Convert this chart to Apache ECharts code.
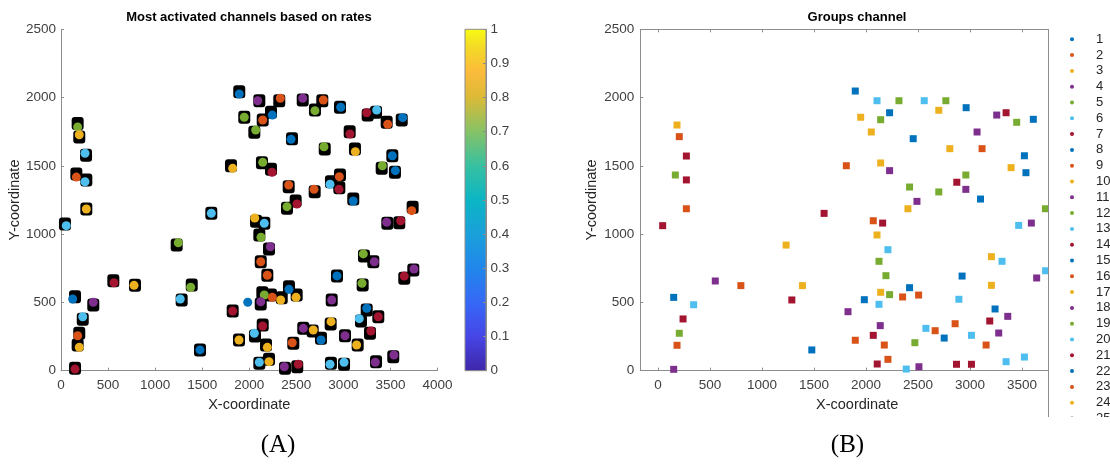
<!DOCTYPE html>
<html>
<head>
<meta charset="utf-8">
<script src="https://cdn.jsdelivr.net/npm/echarts@6/dist/echarts.min.js"></script>
<style>
  html, body { margin: 0; padding: 0; background: #fff; }
  #main { width: 1110px; height: 465px; }
</style>
</head>
<body>
<div id="main"></div>
<script>
// Line colours used for the groups (cycled by group number)
const palette = ['#0072BD', '#D95319', '#EDB120', '#7E2F8E', '#77AC30', '#4DBEEE', '#A2142F'];

// Panel A: positions of the most activated channels (black markers)
const activeChannels = [
  [42,1074],[177,1810],[194,1711],[163,1440],[266,1577],[269,1396],[269,1184],
  [1894,2043],[2107,1977],[2319,1977],[2568,1982],[2776,1977],[2698,1909],[2964,1929],
  [1947,1856],[2143,1836],[2231,1892],[2054,1746],[2454,1699],[2802,1623],[1806,1501],
  [2135,1523],[2231,1475],[2419,1347],[2695,1311],[2868,1384],[2964,1433],[2957,1340],
  [2493,1243],[2401,1189],[1597,1153],[2072,1094],[2160,1079],[3258,1872],[3347,1892],
  [3460,1819],[3620,1836],[3067,1750],[3123,1623],[3520,1574],[3407,1482],[3548,1453],
  [3105,1257],[3736,1197],[3467,1079],[3594,1084],[2210,891],[3219,840],[3318,798],
  [2932,694],[3647,677],[3743,737],[2122,798],[2192,699],[3205,628],[2107,994],
  [1389,628],[1229,920],[786,625],[556,659],[343,481],[149,542],[1282,518],[231,376],
  [194,274],[177,188],[149,18],[1477,152],[1824,437],[1891,225],[2139,571],[2122,488],
  [2231,554],[2345,535],[2422,615],[2504,554],[2143,335],[2061,254],[2178,188],[2107,54],
  [2210,83],[2468,201],[2574,310],[2674,291],[2762,237],[2865,342],[2876,518],[3017,256],
  [3152,188],[3248,444],[3187,364],[3371,395],[3283,274],[2868,54],[3007,47],[3347,66],
  [3530,103],[2380,18],[2510,29]
];

// Panel A: rate markers [x, y, colour index 1..7]
const rateMarks = [
  [56,1062,6],[177,1785,5],[194,1728,3],[163,1418,2],[255,1592,6],[255,1384,6],[269,1184,3],
  [1894,2026,1],[2090,1977,4],[2330,1995,2],[2568,1995,4],[2787,1982,2],[2698,1904,5],[2972,1929,1],
  [1947,1856,5],[2143,1836,2],[2245,1872,1],[2068,1763,5],[2444,1694,1],[2794,1640,5],[1824,1482,3],
  [2143,1526,5],[2242,1453,7],[2419,1360,2],[2688,1328,2],[2858,1365,6],[2957,1421,2],[2954,1328,7],
  [2507,1221,7],[2401,1201,5],[1597,1153,6],[2058,1118,3],[2160,1079,6],[3248,1889,7],[3354,1909,6],
  [3471,1804,2],[3630,1853,1],[3070,1733,7],[3127,1604,3],[3520,1574,1],[3414,1501,5],[3552,1465,1],
  [3105,1243,1],[3726,1172,2],[3460,1087,4],[3609,1098,7],[2224,908,4],[3212,855,5],[3329,798,4],
  [2932,694,1],[3647,693,7],[3750,745,4],[2122,798,2],[2192,699,2],[3198,640,5],[2125,977,5],
  [1378,611,5],[1246,937,5],[776,625,3],[563,644,7],[343,501,4],[124,525,1],[1267,525,6],[231,395,6],
  [177,256,2],[194,171,3],[149,12,7],[1477,152,1],[1824,437,7],[1891,225,3],[1984,501,1],[2160,554,5],
  [2122,505,4],[2245,537,2],[2334,518,3],[2422,596,1],[2497,537,3],[2143,327,7],[2054,274,6],[2192,171,3],
  [2107,62,6],[2210,66,3],[2457,205,2],[2574,310,4],[2680,298,3],[2762,225,1],[2869,359,3],[2876,518,4],
  [3017,256,4],[3141,188,3],[3248,457,1],[3169,381,6],[3371,395,7],[3293,291,7],[2858,47,6],[3007,62,6],
  [3339,62,4],[3537,115,4],[2372,29,4],[2521,47,7]
];

// Panel B: channel positions with their group number [x, y, group]
const groupPoints = [
  [183,1799,3],[205,1714,2],[273,1572,7],[167,1433,5],[273,1397,14],[273,1186,9],[45,1062,21],
  [1232,920,10],[551,657,4],[797,623,16],[1389,623,17],[1287,518,7],[151,537,1],[343,483,6],
  [241,379,14],[205,274,12],[183,186,23],[151,10,11],[1479,152,8],[1897,2048,15],[2106,1977,13],
  [2317,1977,19],[2560,1977,20],[2768,1977,5],[2700,1907,24],[2963,1926,22],[2227,1889,1],[1949,1856,3],
  [2141,1838,12],[3257,1872,18],[3347,1889,21],[3449,1819,19],[3609,1841,8],[2051,1748,10],[3068,1748,25],
  [2454,1699,15],[2806,1626,17],[3116,1626,2],[3523,1574,22],[1811,1501,9],[2141,1521,24],[2227,1465,4],
  [3395,1487,3],[3538,1450,1],[2960,1433,5],[2873,1380,7],[2960,1328,11],[2419,1345,12],[2700,1309,19],
  [3101,1257,8],[2490,1240,18],[2403,1186,10],[3725,1186,5],[1597,1152,14],[2070,1098,16],[2160,1081,21],
  [3468,1064,6],[3590,1081,25],[2106,994,17],[2211,886,13],[3206,835,24],[3308,801,20],[3727,732,6],
  [2125,801,12],[2924,693,15],[2192,696,19],[3641,679,4],[3206,625,3],[2419,608,22],[2141,574,10],
  [2227,557,5],[2352,540,23],[2506,554,2],[1984,520,1],[2125,486,13],[2893,523,20],[3241,452,8],
  [1827,432,11],[3363,398,18],[3190,364,7],[2857,344,9],[2137,330,25],[2576,310,6],[2665,293,16],
  [3276,276,4],[2070,259,14],[3014,259,13],[2752,239,15],[1897,223,23],[2176,188,2],[2470,205,12],
  [3155,188,9],[3523,100,20],[2211,83,16],[3347,66,6],[2108,49,21],[2870,47,7],[3014,47,14],
  [2387,12,13],[2509,29,11]
];

const groupNames = ['1','2','3','4','5','6','7','8','9','10','11','12','13','14','15','16','17','18','19','20','21','22','23','24','25'];
const xTicks = [0, 500, 1000, 1500, 2000, 2500, 3000, 3500];
const xTickMarks = [0, 500, 1000, 1500, 2000, 2500, 3000, 3500, 4000];

// Parula colour map for the colour bar
const parulaStops = [
  [0.00, '#3E26A8'], [0.10, '#4745E6'], [0.20, '#3668F6'], [0.30, '#2186EB'],
  [0.40, '#1AA0DA'], [0.50, '#0BB5C4'], [0.60, '#37C0A1'], [0.70, '#86C266'],
  [0.80, '#DBBA37'], [0.875, '#FCBB3B'], [0.95, '#F3DC25'], [1.00, '#F9FB14']
];

const axisGrey = '#8c8c8c';
const labelGrey = '#404040';
const font = 'Liberation Sans, Arial, sans-serif';
const plainNumber = v => String(Math.round(v * 1000) / 1000);

const chart = echarts.init(document.getElementById('main'));

const gridTop = 29.3, gridH = 341.4;

function tickLabels(extra) {
  return Object.assign({ fontSize: 13.5, color: labelGrey, fontFamily: font, formatter: plainNumber }, extra);
}

function valueAxis(extra) {
  return Object.assign({
    type: 'value',
    splitLine: { show: false },
    axisLine: { show: true, onZero: false, lineStyle: { color: axisGrey, width: 1 } },
    axisTick: { show: true, inside: true, length: 3, lineStyle: { color: axisGrey } },
    axisLabel: tickLabels({}),
    nameTextStyle: { fontSize: 14.5, color: '#262626', fontFamily: font }
  }, extra);
}

const groupSeries = groupNames.map((name, i) => ({
  name: name,
  type: 'scatter',
  xAxisIndex: 1,
  yAxisIndex: 1,
  symbol: 'rect',
  symbolSize: 7,
  itemStyle: { color: palette[i % 7], opacity: 1 },
  data: groupPoints.filter(p => p[2] === i + 1).map(p => [p[0], p[1]])
}));

chart.setOption({
  animation: false,
  backgroundColor: '#fff',
  grid: [
    { left: 61, top: gridTop, width: 376.5, height: gridH },
    { left: 640.3, top: gridTop, width: 433.7, height: gridH },
    {
      left: 465, top: gridTop, width: 21, height: gridH, show: true,
      borderColor: axisGrey, borderWidth: 1,
      backgroundColor: {
        type: 'linear', x: 0, y: 1, x2: 0, y2: 0,
        colorStops: parulaStops.map(s => ({ offset: s[0], color: s[1] }))
      }
    }
  ],
  xAxis: [
    valueAxis({ gridIndex: 0, min: 0, max: 4000, interval: 500,
      name: 'X-coordinate', nameLocation: 'middle', nameGap: 26 }),
    valueAxis({ gridIndex: 1, min: -170, max: 4000,
      axisLabel: tickLabels({ customValues: xTicks }),
      axisTick: { show: true, inside: true, length: 3, lineStyle: { color: axisGrey }, customValues: xTickMarks },
      name: 'X-coordinate', nameLocation: 'middle', nameGap: 26 }),
    valueAxis({ gridIndex: 1, position: 'top', min: -170, max: 4000,
      axisLabel: { show: false },
      axisTick: { show: true, inside: true, length: 3, lineStyle: { color: axisGrey }, customValues: xTickMarks } }),
    { gridIndex: 2, type: 'value', show: false, min: 0, max: 1 }
  ],
  yAxis: [
    valueAxis({ gridIndex: 0, min: 0, max: 2500, interval: 500,
      axisLabel: tickLabels({ margin: 5 }),
      name: 'Y-coordinate', nameLocation: 'middle', nameGap: 39 }),
    valueAxis({ gridIndex: 1, min: 0, max: 2500, interval: 500,
      axisLabel: tickLabels({ margin: 6 }),
      name: 'Y-coordinate', nameLocation: 'middle', nameGap: 41 }),
    valueAxis({ gridIndex: 2, position: 'right', min: 0, max: 1, interval: 0.1,
      axisLabel: tickLabels({ margin: 4.5 }) })
  ],
  legend: {
    data: groupNames,
    orient: 'vertical',
    left: 1070,
    top: 31.4,
    padding: 0,
    itemGap: 0,
    itemWidth: 4,
    itemHeight: 4,
    icon: 'circle',
    selectedMode: false,
    textStyle: { fontSize: 13, lineHeight: 15.8, color: '#262626', fontFamily: font, padding: [0, 0, 0, 17] }
  },
  series: [
    {
      type: 'scatter', xAxisIndex: 0, yAxisIndex: 0, silent: true,
      symbol: 'roundRect', symbolSize: [12, 13],
      itemStyle: { color: '#000', opacity: 1 },
      data: activeChannels
    },
    {
      type: 'scatter', xAxisIndex: 0, yAxisIndex: 0, silent: true,
      symbol: 'circle', symbolSize: 9,
      itemStyle: { color: p => palette[p.value[2] - 1], opacity: 1 },
      data: rateMarks
    }
  ].concat(groupSeries),
  graphic: [
    { type: 'rect', z: 3, shape: { x: 1048.5, y: 29, width: 62, height: 388 }, style: { fill: '#fff' } },
    { type: 'line', z: 3, shape: { x1: 1048.5, y1: 29, x2: 1048.5, y2: 417 }, style: { stroke: axisGrey, lineWidth: 1 } },
    { type: 'rect', zlevel: 1, z: 10, shape: { x: 1049, y: 417, width: 61, height: 48 }, style: { fill: '#fff' } },
    { type: 'text', z: 10, style: { text: 'Most activated channels based on rates', x: 249, y: 17.5,
        textAlign: 'center', textVerticalAlign: 'middle', font: 'bold 13px ' + font, fill: '#000' } },
    { type: 'text', z: 10, style: { text: 'Groups channel', x: 857, y: 17.5,
        textAlign: 'center', textVerticalAlign: 'middle', font: 'bold 13px ' + font, fill: '#000' } },
    { type: 'text', z: 10, style: { text: '(A)', x: 278, y: 445,
        textAlign: 'center', textVerticalAlign: 'middle', font: '25px Liberation Serif, serif', fill: '#000' } },
    { type: 'text', z: 10, style: { text: '(B)', x: 847.5, y: 445,
        textAlign: 'center', textVerticalAlign: 'middle', font: '25px Liberation Serif, serif', fill: '#000' } }
  ]
});
</script>
</body>
</html>
